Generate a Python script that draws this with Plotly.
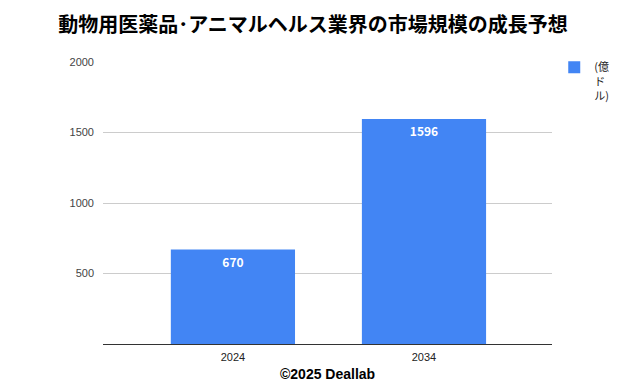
import plotly.graph_objects as go

categories = ["2024", "2034"]
values = [670, 1596]
series_name = "(億<br>ド<br>ル)"
title = "動物用医薬品･アニマルヘルス業界の市場規模の成長予想"
caption = "©2025 Deallab"
y_ticks = [500, 1000, 1500, 2000]

font = "Liberation Sans, Arial, Noto Sans CJK JP, sans-serif"

fig = go.Figure()
fig.add_trace(go.Bar(
    x=categories, y=values, name=series_name,
    marker=dict(color="#4285F4", line=dict(width=0)),
    width=0.65,
    text=[str(v) for v in values],
    textposition="inside", insidetextanchor="end",
    textfont=dict(color="white", size=12, family="Noto Sans CJK JP, sans-serif", weight="bold"),
    cliponaxis=False,
    showlegend=True,
))

fig.update_layout(
    width=626, height=386,
    margin=dict(l=103, r=74, t=62, b=42, autoexpand=False),
    paper_bgcolor="white", plot_bgcolor="white",
    font=dict(family=font, color="#444", size=11),
    title=dict(text="<b>" + title + "</b>", x=0.5, xanchor="center", y=0.935, yanchor="middle",
               font=dict(size=20, color="black", family="Noto Sans CJK JP, sans-serif")),
    showlegend=True,
    legend=dict(x=1.005, y=1.03, xanchor="left", yanchor="top", valign="top",
                font=dict(size=11, color="#222", family="Noto Sans CJK JP, sans-serif"),
                itemwidth=30, tracegroupgap=0, bgcolor="rgba(0,0,0,0)"),
    bargap=0.35,
)
fig.update_xaxes(type="category", range=[-0.68, 1.67], showgrid=False,
                 showline=True, linecolor="#333", linewidth=1,
                 ticks="", ticklabelstandoff=3, tickfont=dict(size=11, color="#222"))
fig.update_yaxes(range=[0, 2000], tickvals=y_ticks, showgrid=True, gridcolor="#cccccc",
                 gridwidth=1, zeroline=False, showline=False, ticks="",
                 ticklabelstandoff=8,
                 tickfont=dict(size=11, color="#444"))
fig.add_annotation(text="<b>" + caption + "</b>", xref="paper", yref="paper",
                   x=0.5, y=-0.106, xanchor="center", yanchor="middle", showarrow=False,
                   font=dict(size=14, color="black", family="Liberation Sans, Arial, sans-serif"))

fig.write_html("out.html", config={"displayModeBar": False},
               post_script="document.body.style.margin='0';")
